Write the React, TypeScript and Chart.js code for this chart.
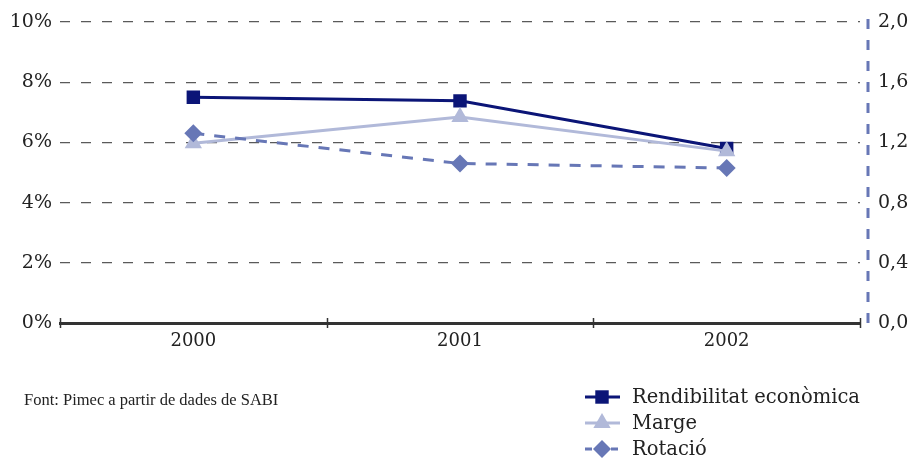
import React, { useEffect, useRef } from "react";
import { Chart, registerables } from "chart.js";

Chart.register(...registerables);

const categories = ["2000", "2001", "2002"];
const rendibilitat = [7.5, 7.38, 5.8];
const marge = [5.97, 6.84, 5.71];
const rotacio = [1.26, 1.06, 1.03];
const leftTicks = [0, 2, 4, 6, 8, 10];
const rightTicks = [0, 0.4, 0.8, 1.2, 1.6, 2.0];
const sourceText = "Font: Pimec a partir de dades de SABI";

const FONT = "'DejaVu Serif', 'Liberation Serif', serif";
const SRC_FONT = "'Liberation Serif', serif";
const NAVY = "#0b1577";
const LIGHT = "#b1b9d9";
const MID = "#6777b6";

const extrasPlugin = {
  id: "extras",
  afterDraw(chart: any) {
    const ctx = chart.ctx;
    const ca = chart.chartArea;
    const x = chart.scales.x;
    ctx.save();
    // x axis tick marks between categories and at ends
    ctx.strokeStyle = "#333";
    ctx.lineWidth = 1.5;
    const n = chart.data.labels.length;
    const marks: number[] = [ca.left, ca.right];
    for (let i = 0; i < n - 1; i++) {
      marks.push((x.getPixelForTick(i) + x.getPixelForTick(i + 1)) / 2);
    }
    marks.forEach((px) => {
      ctx.beginPath();
      ctx.moveTo(Math.round(px) + 0.5, ca.bottom - 5);
      ctx.lineTo(Math.round(px) + 0.5, ca.bottom + 5);
      ctx.stroke();
    });
    // right axis dashed blue line
    ctx.strokeStyle = MID;
    ctx.lineWidth = 3;
    ctx.setLineDash([10, 11]);
    ctx.beginPath();
    ctx.moveTo(ca.right + 8, ca.top - 3);
    ctx.lineTo(ca.right + 8, ca.bottom + 3);
    ctx.stroke();
    ctx.setLineDash([]);

    // source text
    ctx.fillStyle = "#222";
    ctx.font = `16.5px ${SRC_FONT}`;
    ctx.textBaseline = "middle";
    ctx.textAlign = "left";
    ctx.fillText(sourceText, 24, 401);

    // legend
    const order = [2, 1, 0];
    const rows = [397, 423, 449];
    chart.data.datasets.forEach((ds: any, i: number) => {
      const y = rows[order[i]];
      ctx.strokeStyle = ds.borderColor;
      ctx.lineWidth = 3;
      ctx.setLineDash(ds.borderDash ? [7, 6] : []);
      ctx.beginPath();
      ctx.moveTo(585, y);
      ctx.lineTo(620, y);
      ctx.stroke();
      ctx.setLineDash([]);
      ctx.fillStyle = ds.pointBackgroundColor;
      const r = ds.pointRadius;
      ctx.beginPath();
      if (ds.pointStyle === "rect") {
        const s = Math.SQRT1_2 * r;
        ctx.rect(602 - s, y - s, 2 * s, 2 * s);
      } else if (ds.pointStyle === "triangle") {
        ctx.moveTo(602, y - r);
        ctx.lineTo(602 + r * 0.866, y + r * 0.5);
        ctx.lineTo(602 - r * 0.866, y + r * 0.5);
        ctx.closePath();
      } else {
        ctx.moveTo(602, y - r);
        ctx.lineTo(602 + r, y);
        ctx.lineTo(602, y + r);
        ctx.lineTo(602 - r, y);
        ctx.closePath();
      }
      ctx.fill();
      ctx.fillStyle = "#222";
      ctx.font = `19.5px ${FONT}`;
      ctx.fillText(ds.label, 632, y + 1);
    });
    ctx.restore();
  },
};

export default function App() {
  const ref = useRef<HTMLCanvasElement | null>(null);
  useEffect(() => {
    if (!ref.current) return;
    const chart = new Chart(ref.current, {
      type: "line",
      data: {
        labels: categories,
        datasets: [
          {
            label: "Rotació",
            data: rotacio,
            yAxisID: "y1",
            borderColor: MID,
            backgroundColor: MID,
            pointBackgroundColor: MID,
            pointBorderWidth: 0,
            pointStyle: "rectRot",
            pointRadius: 9,
            borderWidth: 3,
            borderDash: [11, 10],
            order: 1,
          } as any,
          {
            label: "Marge",
            data: marge,
            yAxisID: "y",
            borderColor: LIGHT,
            backgroundColor: LIGHT,
            pointBackgroundColor: LIGHT,
            pointBorderWidth: 0,
            pointStyle: "triangle",
            pointRadius: 10,
            borderWidth: 3,
            order: 2,
          } as any,
          {
            label: "Rendibilitat econòmica",
            data: rendibilitat,
            yAxisID: "y",
            borderColor: NAVY,
            backgroundColor: NAVY,
            pointBackgroundColor: NAVY,
            pointBorderWidth: 0,
            pointStyle: "rect",
            pointRadius: 9.5,
            borderWidth: 3,
            order: 3,
          } as any,
        ],
      },
      options: {
        responsive: false,
        animation: false,
        layout: { padding: { top: 22, left: 0, right: 0, bottom: 0 } },
        plugins: { legend: { display: false }, tooltip: { enabled: false } },
        scales: {
          x: {
            offset: true,
            grid: { display: false },
            border: { display: true, color: "#333", width: 3 },
            ticks: { color: "#222", font: { family: FONT, size: 18 }, padding: 0 },
            afterFit: (s: any) => {
              s.height = 138;
            },
          },
          y: {
            position: "left",
            min: 0,
            max: 10,
            afterBuildTicks: (s: any) => {
              s.ticks = leftTicks.map((v) => ({ value: v }));
            },
            ticks: {
              color: "#222",
              font: { family: FONT, size: 19 },
              padding: 0,
              callback: (v: any) => `${v}%`,
            },
            grid: {
              drawTicks: true,
              tickLength: 8,
              tickColor: "rgba(0,0,0,0)",
              color: (c: any) => (c.tick && c.tick.value === 0 ? "rgba(0,0,0,0)" : "#5a5a5a"),
              lineWidth: 1.2,
            },
            border: { display: false, dash: [10, 11] },
            afterFit: (s: any) => {
              s.width = 60;
            },
          },
          y1: {
            position: "right",
            min: 0,
            max: 2,
            afterBuildTicks: (s: any) => {
              s.ticks = rightTicks.map((v) => ({ value: v }));
            },
            ticks: {
              color: "#222",
              font: { family: FONT, size: 19 },
              padding: 0,
              callback: (v: any) => Number(v).toFixed(1).replace(".", ","),
            },
            grid: { drawOnChartArea: false, drawTicks: true, tickLength: 18, tickColor: "rgba(0,0,0,0)" },
            border: { display: false },
            afterFit: (s: any) => {
              s.width = 51;
            },
          },
        },
      },
      plugins: [extrasPlugin],
    } as any);
    return () => chart.destroy();
  }, []);
  return (
    <div style={{ position: "absolute", left: 0, top: 0, width: 911, height: 461, background: "#fff" }}>
      <canvas ref={ref} width={911} height={461} />
    </div>
  );
}
